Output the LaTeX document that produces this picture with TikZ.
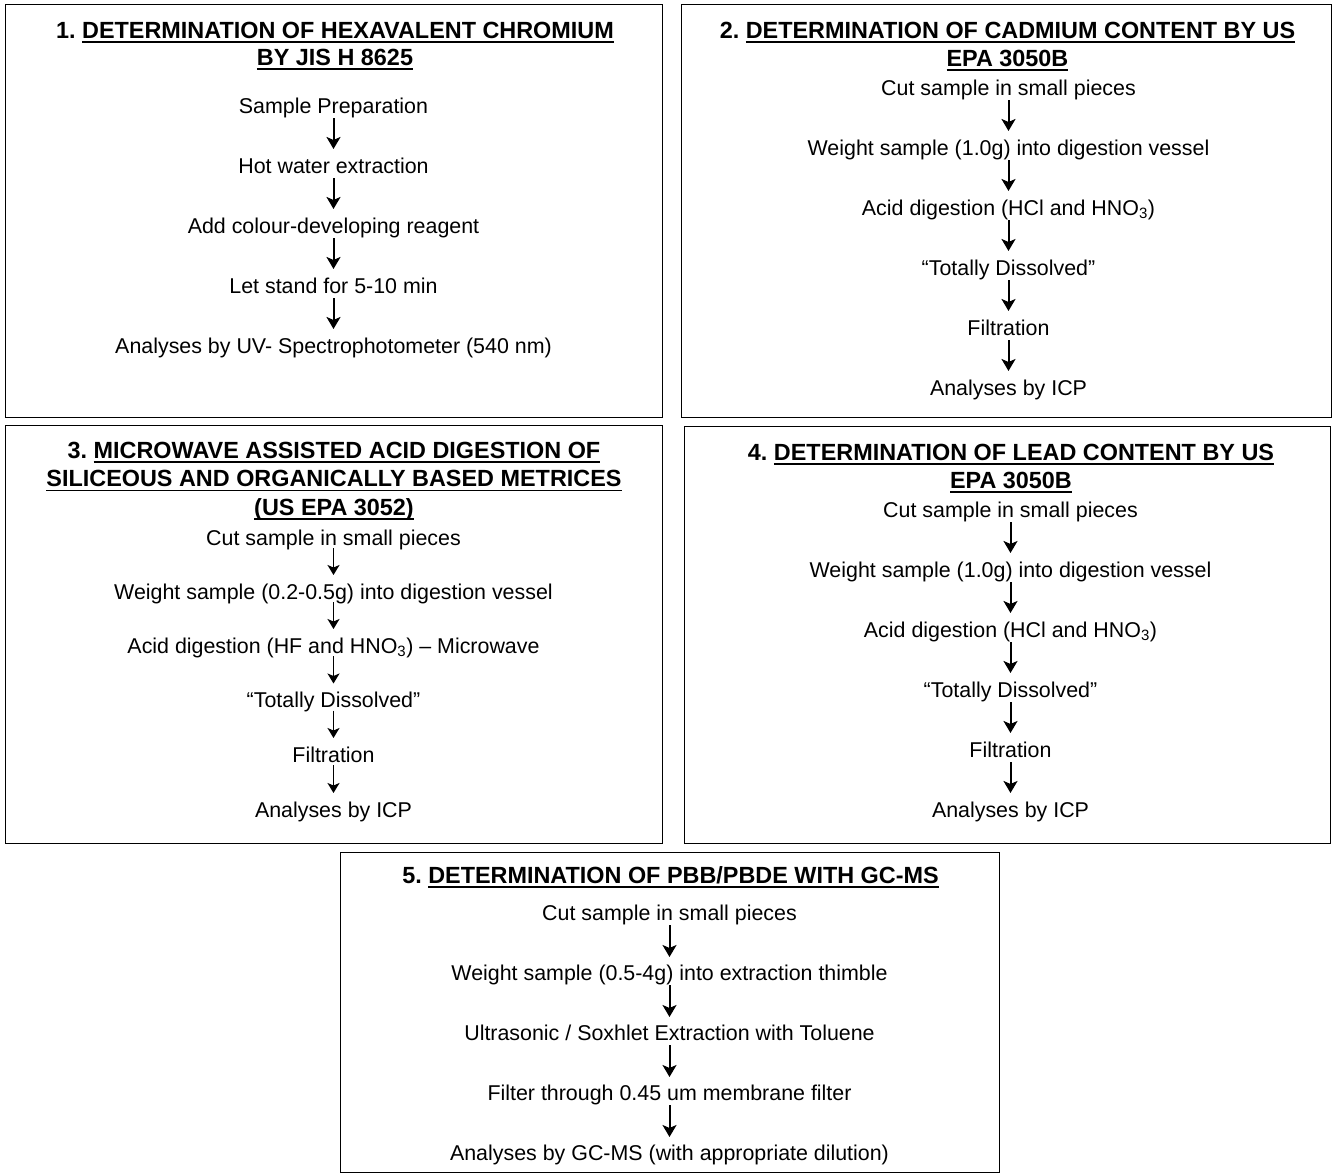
\documentclass[tikz,border=0pt]{standalone}
\usepackage{fontspec}
\setmainfont{Liberation Sans}
\usetikzlibrary{arrows.meta}
\frenchspacing
\newcommand{\ulin}[1]{\setbox0=\hbox{#1}\rlap{\rule[-4.8pt]{\wd0}{1.8pt}}\box0}
\tikzset{
  box/.style={draw, line width=1.4pt, anchor=north west, inner sep=0pt},
  ttl/.style={anchor=base, inner sep=0pt, font=\fontsize{23.4}{27}\selectfont\bfseries\frenchspacing},
  itm/.style={anchor=base, inner sep=0pt, font=\fontsize{21.4}{25}\selectfont\frenchspacing},
  arr/.style={line width=2pt, -{Stealth[length=12pt,width=14pt,inset=3pt]}},
  arrs/.style={line width=1.6pt, -{Stealth[length=10pt,width=12pt,inset=2.5pt]}}
}
\newcommand{\flow}[4]{%
  \draw[#1] ([yshift=-5pt]#2.base) -- ([yshift=#4]#3.base);}
\begin{document}
\begin{tikzpicture}[x=1pt,y=-1pt]
\useasboundingbox (0,0) rectangle (1334,1175);
% boxes
\node[box, minimum width=657pt, minimum height=413pt] (b1) at (5,4) {};
\node[box, minimum width=650pt, minimum height=413pt] (b2) at (681,4) {};
\node[box, minimum width=657pt, minimum height=418pt] (b3) at (5,425) {};
\node[box, minimum width=646pt, minimum height=417pt] (b4) at (684,426) {};
\node[box, minimum width=659pt, minimum height=320pt] (b5) at (340,852) {};

% ---------- Box 1
\node[ttl] (t1a) at (335,38) {1. \ulin{DETERMINATION OF HEXAVALENT CHROMIUM}};
\node[ttl] (t1b) at (335,65) {\ulin{BY JIS H 8625}};
\node[itm] (a1) at (333.5,113) {Sample Preparation};
\node[itm] (a2) at (333.5,173) {Hot water extraction};
\node[itm] (a3) at (333.5,233) {Add colour-developing reagent};
\node[itm] (a4) at (333.5,293) {Let stand for 5-10 min};
\node[itm] (a5) at (333.5,353) {Analyses by UV- Spectrophotometer (540 nm)};
\foreach \p/\q in {a1/a2,a2/a3,a3/a4,a4/a5}{\flow{arr}{\p}{\q}{24pt}}

% ---------- Box 2
\node[ttl] (t2a) at (1007.5,38) {2. \ulin{DETERMINATION OF CADMIUM CONTENT BY US}};
\node[ttl] (t2b) at (1007.5,66.5) {\ulin{EPA 3050B}};
\node[itm] (c1) at (1008.5,95) {Cut sample in small pieces};
\node[itm] (c2) at (1008.5,155) {Weight sample (1.0g) into digestion vessel};
\node[itm] (c3) at (1008.5,215) {Acid digestion (HCl and HNO\textsubscript{3})};
\node[itm] (c4) at (1008.5,275) {“Totally Dissolved”};
\node[itm] (c5) at (1008.5,335) {Filtration};
\node[itm] (c6) at (1008.5,395) {Analyses by ICP};
\foreach \p/\q in {c1/c2,c2/c3,c3/c4,c4/c5,c5/c6}{\flow{arr}{\p}{\q}{24pt}}

% ---------- Box 3
\node[ttl] (t3a) at (334,458) {3. \ulin{MICROWAVE ASSISTED ACID DIGESTION OF}};
\node[ttl] (t3b) at (334,486.5) {\ulin{SILICEOUS AND ORGANICALLY BASED METRICES}};
\node[ttl] (t3c) at (334,515) {\ulin{(US EPA 3052)}};
\node[itm] (m1) at (333.5,545) {Cut sample in small pieces};
\node[itm] (m2) at (333.5,599) {Weight sample (0.2-0.5g) into digestion vessel};
\node[itm] (m3) at (333.5,653) {Acid digestion (HF and HNO\textsubscript{3}) – Microwave};
\node[itm] (m4) at (333.5,707.5) {“Totally Dissolved”};
\node[itm] (m5) at (333.5,762) {Filtration};
\node[itm] (m6) at (333.5,817) {Analyses by ICP};
\foreach \p/\q in {m1/m2,m2/m3,m3/m4,m4/m5,m5/m6}{\draw[arrs] ([yshift=-3pt]\p.base) -- ([yshift=24pt]\q.base);}

% ---------- Box 4
\node[ttl] (t4a) at (1011,460) {4. \ulin{DETERMINATION OF LEAD CONTENT BY US}};
\node[ttl] (t4b) at (1011,488) {\ulin{EPA 3050B}};
\node[itm] (l1) at (1010.5,517) {Cut sample in small pieces};
\node[itm] (l2) at (1010.5,577) {Weight sample (1.0g) into digestion vessel};
\node[itm] (l3) at (1010.5,637) {Acid digestion (HCl and HNO\textsubscript{3})};
\node[itm] (l4) at (1010.5,697) {“Totally Dissolved”};
\node[itm] (l5) at (1010.5,757) {Filtration};
\node[itm] (l6) at (1010.5,817) {Analyses by ICP};
\foreach \p/\q in {l1/l2,l2/l3,l3/l4,l4/l5,l5/l6}{\flow{arr}{\p}{\q}{24pt}}

% ---------- Box 5
\node[ttl] (t5a) at (670.5,883) {5. \ulin{DETERMINATION OF PBB/PBDE WITH GC-MS}};
\node[itm] (g1) at (669.5,920) {Cut sample in small pieces};
\node[itm] (g2) at (669.5,980) {Weight sample (0.5-4g) into extraction thimble};
\node[itm] (g3) at (669.5,1040) {Ultrasonic / Soxhlet Extraction with Toluene};
\node[itm] (g4) at (669.5,1100) {Filter through 0.45 um membrane filter};
\node[itm] (g5) at (669.5,1160) {Analyses by GC-MS (with appropriate dilution)};
\foreach \p/\q in {g1/g2,g2/g3,g3/g4,g4/g5}{\flow{arr}{\p}{\q}{23pt}}
\end{tikzpicture}
\end{document}
